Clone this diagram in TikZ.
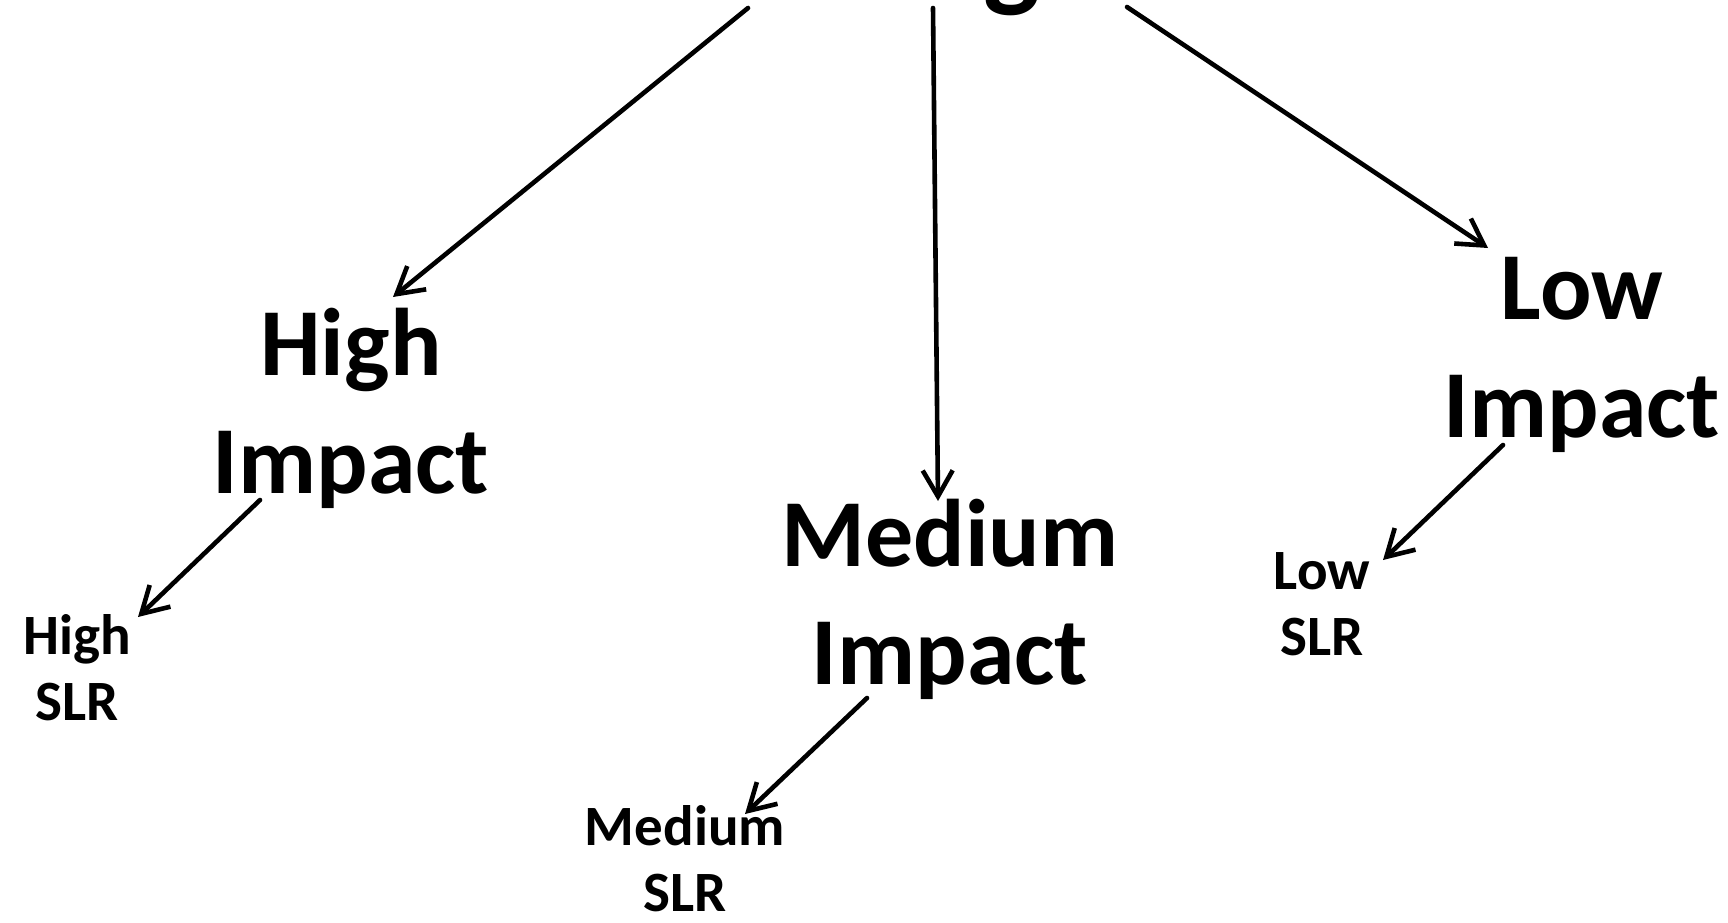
\documentclass[tikz,border=0pt]{standalone}
\usepackage{fontspec}
\setmainfont{Carlito}
\usetikzlibrary{arrows.meta}
\begin{document}
\begin{tikzpicture}[x=0.5pt,y=-0.5pt,
  bigtext/.style={font=\bfseries\fontsize{48}{59}\selectfont,align=center,anchor=base,inner sep=0pt},
  smalltext/.style={font=\bfseries\fontsize{28.5}{33}\selectfont,align=center,anchor=base,inner sep=0pt},
  toptext/.style={font=\bfseries\fontsize{60}{72}\selectfont,anchor=base,inner sep=0pt},
  link/.style={line width=2.3pt,line cap=round,-{Straight Barb[length=13pt,width=15pt,line width=2.3pt]}}]
\clip (0,0) rectangle (1728,922);
\fill[white] (0,0) rectangle (1728,922);

% title, mostly above the page edge
\node[toptext] (top) at (1012,-5) {g};

% impact levels (anchored at the baseline of the last line)
\node[bigtext] (hi)  at (351,493)  {High\\Impact};
\node[bigtext] (med) at (950,684)  {Medium\\Impact};
\node[bigtext] (low) at (1582,437) {Low\\Impact};

% sea level rise levels
\node[smalltext] (hislr)  at (77,720)   {High\\SLR};
\node[smalltext] (medslr) at (685,911)  {Medium\\SLR};
\node[smalltext] (lowslr) at (1322,655) {Low\\SLR};

% connector ends
\coordinate (top-l) at (748,8);
\coordinate (top-m) at (933,8);
\coordinate (top-r) at (1127,7);
\coordinate (hi-in)  at (393,297);
\coordinate (med-in) at (938,501);
\coordinate (low-in) at (1488,248);
\coordinate (hi-out)  at (260,500);
\coordinate (med-out) at (867,698);
\coordinate (low-out) at (1503,445);
\coordinate (hislr-in)  at (138,617);
\coordinate (medslr-in) at (745,814);
\coordinate (lowslr-in) at (1383,560);

\draw[link] (top-l) -- (hi-in);
\draw[link] (top-m) -- (med-in);
\draw[link] (top-r) -- (low-in);
\draw[link] (hi-out) -- (hislr-in);
\draw[link] (med-out) -- (medslr-in);
\draw[link] (low-out) -- (lowslr-in);
\end{tikzpicture}
\end{document}
